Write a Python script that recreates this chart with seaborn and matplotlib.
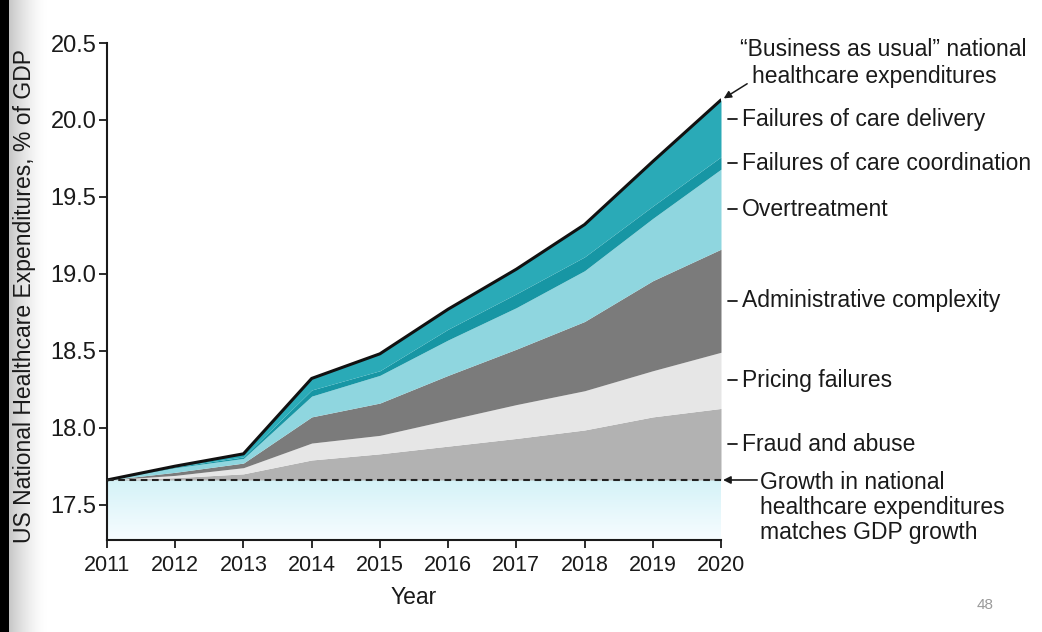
import numpy as np
import pandas as pd
import matplotlib
matplotlib.use("Agg")
import matplotlib.pyplot as plt
import seaborn as sns

# Years and projected waste categories (% of GDP added on top of the GDP-matched baseline)
years = [2011, 2012, 2013, 2014, 2015, 2016, 2017, 2018, 2019, 2020]
baseline_level = 17.66
fraud_abuse = [0.0, 0.015, 0.04, 0.13, 0.17, 0.22, 0.27, 0.325, 0.41, 0.465]
pricing_failures = [0.0, 0.015, 0.04, 0.11, 0.12, 0.17, 0.22, 0.255, 0.30, 0.365]
admin_complexity = [0.0, 0.02, 0.03, 0.17, 0.21, 0.29, 0.36, 0.45, 0.585, 0.67]
overtreatment = [0.0, 0.03, 0.03, 0.135, 0.18, 0.23, 0.27, 0.33, 0.405, 0.52]
care_coordination = [0.0, 0.005, 0.01, 0.04, 0.03, 0.07, 0.09, 0.09, 0.08, 0.08]
care_delivery = [0.0, 0.005, 0.02, 0.075, 0.11, 0.13, 0.16, 0.21, 0.29, 0.37]

categories = ["Fraud and abuse", "Pricing failures", "Administrative complexity",
              "Overtreatment", "Failures of care coordination", "Failures of care delivery"]
y_ticks = [17.5, 18.0, 18.5, 19.0, 19.5, 20.0, 20.5]

band_colors = ["#b2b2b2", "#e6e6e6", "#7b7b7b", "#8fd6df", "#1796a4", "#2aaab7"]
ink = "#1a1a1a"

sns.set_theme(style="ticks")
plt.rcParams["font.family"] = ["Liberation Sans", "DejaVu Sans"]

W, H = 1042, 632
fig = plt.figure(figsize=(W / 100, H / 100), dpi=100)
fig.patch.set_facecolor("white")

# dark page edge on the left
edge = fig.add_axes([0, 0, 48 / W, 1], zorder=-5)
shade = np.ones((2, 48, 3))
ramp = 1.0 - 0.22 * (1 - np.linspace(0, 1, 39)) ** 1.6
shade[:, :9, :] = 0.0
shade[:, 9:, :] = ramp[None, :, None]
edge.imshow(shade, aspect="auto", extent=(0, 1, 0, 1), interpolation="bilinear")
edge.set_axis_off()

ax = fig.add_axes([107 / W, 1 - 540 / H, (721 - 107) / W, (540 - 43) / H])

df = pd.DataFrame({"year": years, "baseline": baseline_level,
                   categories[0]: fraud_abuse, categories[1]: pricing_failures,
                   categories[2]: admin_complexity, categories[3]: overtreatment,
                   categories[4]: care_coordination, categories[5]: care_delivery})

ymin, ymax = 17.27, 20.5

# light band below the GDP-matched level
grad = np.linspace(0, 1, 64)
low = np.array([0.97, 0.99, 1.0])
high = np.array([0.83, 0.95, 0.97])
grad_img = low[None, None, :] * (1 - grad[:, None, None]) + high[None, None, :] * grad[:, None, None]
ax.imshow(grad_img, extent=(years[0], years[-1], ymin, baseline_level), aspect="auto",
          origin="lower", interpolation="bilinear", zorder=0.5)

# stacked waste bands
lower = df["baseline"].to_numpy(dtype=float)
bounds = []
for name, col in zip(categories, band_colors):
    upper = lower + df[name].to_numpy(dtype=float)
    ax.fill_between(df["year"], lower, upper, color=col, lw=0, zorder=1)
    bounds.append((lower.copy(), upper.copy()))
    lower = upper
df["total"] = lower

sns.lineplot(data=df, x="year", y="total", color="#111111", lw=2.2, ax=ax, zorder=3)
sns.lineplot(data=df, x="year", y="baseline", color="#222222", lw=1.5,
             linestyle=(0, (3.2, 2.2)), ax=ax, zorder=3)

ax.set_xlim(years[0], years[-1])
ax.set_ylim(ymin, ymax)
ax.set_xticks(years)
ax.set_xticklabels([str(y) for y in years])
ax.set_yticks(y_ticks)
ax.set_yticklabels([f"{t:.1f}" for t in y_ticks])
ax.tick_params(axis="both", direction="out", length=6, width=1.3, color=ink,
               labelsize=15.5, labelcolor=ink, pad=5)
ax.tick_params(axis="y", labelsize=17, pad=1.5)
for side in ("left", "bottom"):
    ax.spines[side].set_color(ink)
    ax.spines[side].set_linewidth(1.5)
sns.despine(ax=ax)

ax.set_xlabel("Year", fontsize=16.5, color=ink)
ax.xaxis.set_label_coords(0.5, -0.092)
ax.set_ylabel("US National Healthcare Expenditures, % of GDP", fontsize=16.5, color=ink)
ax.yaxis.set_label_coords(-0.115, 0.49)

# category labels at the right end of each band
label_nudge = {categories[5]: 0.06}
last = len(years) - 1
for name, (lo, up) in zip(categories, bounds):
    yy = (lo[last] + up[last]) / 2 + label_nudge.get(name, 0.0)
    ax.plot([2020.10, 2020.235], [yy, yy], color=ink, lw=1.3, clip_on=False)
    ax.text(2020.31, yy, name, fontsize=16.5, color=ink, va="center", ha="left", clip_on=False)

# top line annotation
top = df["total"].iloc[-1]
ax.text(2020.28, 20.46, "\u201cBusiness as usual\u201d national", fontsize=16.5, color=ink,
        va="center", ha="left", clip_on=False)
ax.annotate("healthcare expenditures", xy=(2020.04, top + 0.01), xytext=(2020.455, 20.28),
            fontsize=16.5, color=ink, va="center", ha="left", annotation_clip=False,
            arrowprops=dict(arrowstyle="-|>", color=ink, lw=1.1, mutation_scale=11,
                            shrinkA=0, shrinkB=0, relpos=(-0.02, 0.2)))

# baseline annotation
ax.annotate("", xy=(2020.03, baseline_level), xytext=(2020.53, baseline_level),
            annotation_clip=False,
            arrowprops=dict(arrowstyle="-|>", color=ink, lw=1.2, mutation_scale=11,
                            shrinkA=0, shrinkB=0))
ax.text(2020.57, baseline_level + 0.06, "Growth in national\nhealthcare expenditures\nmatches GDP growth",
        fontsize=16.5, color=ink, va="top", ha="left", linespacing=1.12, clip_on=False)

fig.text(985 / W, 1 - 605 / H, "48", fontsize=11, color="#9a9a9a", ha="center", va="center")

fig.savefig("out.png", dpi=100)
